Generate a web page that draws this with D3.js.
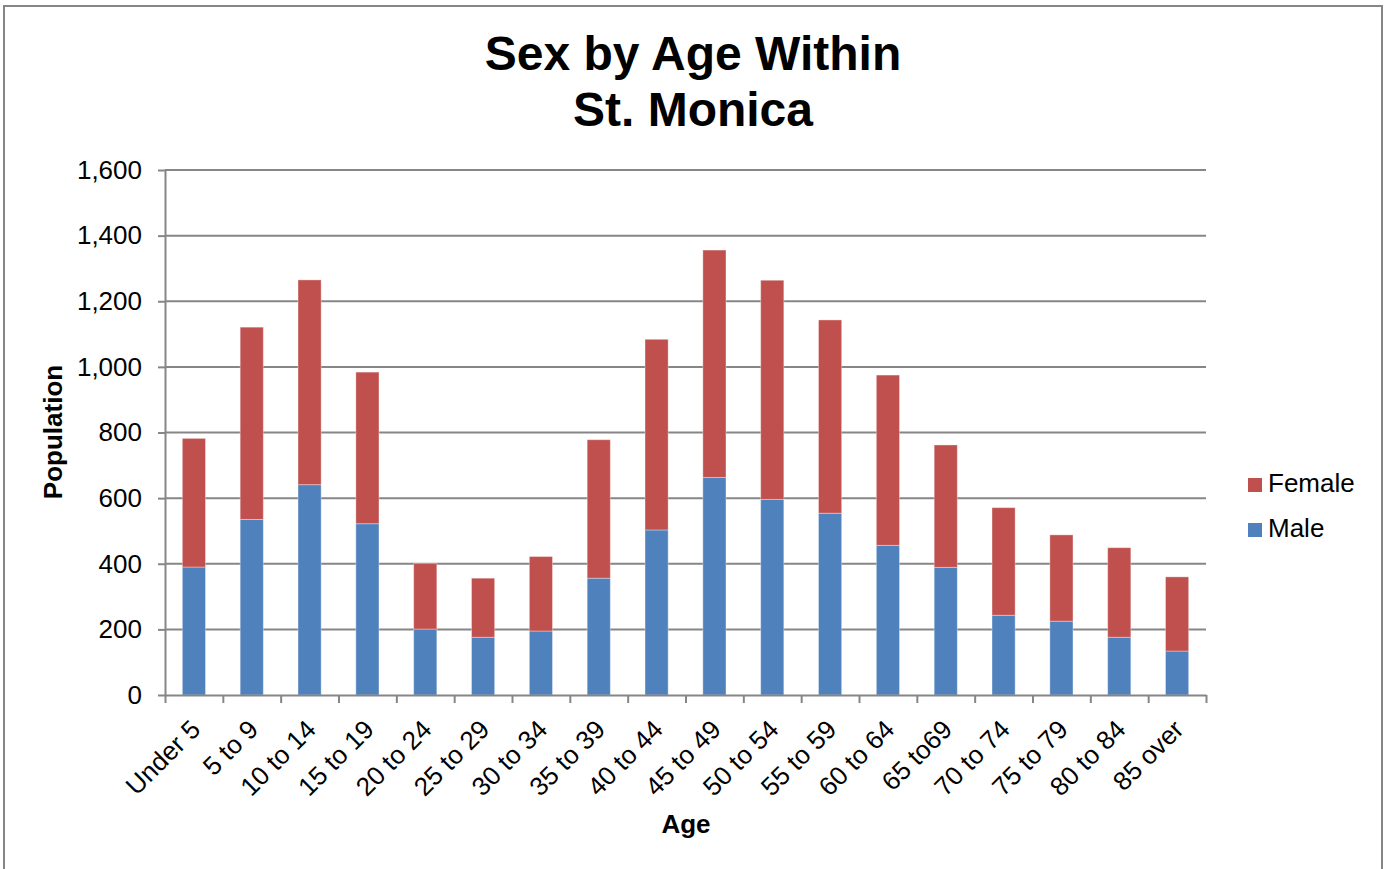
<!DOCTYPE html>
<html>
<head>
<meta charset="utf-8">
<script src="https://cdn.jsdelivr.net/npm/d3@7"></script>
<style>
  html, body { margin: 0; padding: 0; background: #fff; }
  svg { display: block; font-family: "Liberation Sans", Arial, sans-serif; }
</style>
</head>
<body>
<svg id="chart" width="1385" height="869"></svg>
<script>
const categories = ["Under 5","5 to 9","10 to 14","15 to 19","20 to 24","25 to 29","30 to 34","35 to 39","40 to 44","45 to 49","50 to 54","55 to 59","60 to 64","65 to69","70 to 74","75 to 79","80 to 84","85 over"];
const male   = [390, 535, 641, 522, 201, 176, 195, 356, 503, 663, 596, 554, 456, 389, 243, 225, 176, 134];
const female = [392, 586, 624, 462, 200, 180, 227, 422, 581, 693, 668, 589, 519, 373, 328, 263, 273, 226];
const seriesNames = ["Male", "Female"];
const seriesColors = ["#4F81BD", "#C0504D"];
const yTicks = [0, 200, 400, 600, 800, 1000, 1200, 1400, 1600];
const titleLines = ["Sex by Age Within", "St. Monica"];

const svg = d3.select("#chart");
const plotLeft = 165, plotRight = 1206, plotTop = 170, plotBottom = 695;
const gridColor = "#868686";
const fs = 26;

// outer frame
svg.append("rect").attr("x", 4).attr("y", 6).attr("width", 1378).attr("height", 900)
  .attr("fill", "none").attr("stroke", gridColor).attr("stroke-width", 2);

const x = d3.scaleBand().domain(categories).range([plotLeft, plotRight]).paddingInner(0.6).paddingOuter(0.3);
const y = d3.scaleLinear().domain([0, 1600]).range([plotBottom, plotTop]);

// gridlines
svg.append("g").selectAll("line").data(yTicks.filter(d => d > 0)).join("line")
  .attr("x1", plotLeft).attr("x2", plotRight)
  .attr("y1", d => y(d)).attr("y2", d => y(d))
  .attr("stroke", gridColor).attr("stroke-width", 2);

// stacked data
const rows = categories.map((c, i) => ({cat: c, Male: male[i], Female: female[i]}));
const stack = d3.stack().keys(seriesNames)(rows);

svg.append("g").selectAll("g").data(stack).join("g")
  .attr("fill", (d, i) => seriesColors[i])
  .selectAll("rect").data(d => d).join("rect")
  .attr("x", d => x(d.data.cat))
  .attr("width", x.bandwidth())
  .attr("y", d => y(d[1]))
  .attr("height", d => y(d[0]) - y(d[1]))
  .attr("stroke", "rgba(255,255,255,0.35)").attr("stroke-width", 1);

// y axis
const yAxis = d3.axisLeft(y).tickValues(yTicks).tickSize(7).tickSizeOuter(0).tickPadding(16)
  .tickFormat(d3.format(","));
const gy = svg.append("g").attr("transform", `translate(${plotLeft},0)`).call(yAxis);
gy.select(".domain").attr("stroke", gridColor).attr("stroke-width", 2);
gy.selectAll(".tick line").attr("stroke", gridColor).attr("stroke-width", 2);
gy.selectAll(".tick text").attr("font-size", fs).attr("fill", "#000")
  .attr("font-family", "Liberation Sans, Arial, sans-serif");

// x axis (ticks at category boundaries)
const xb = d3.scaleLinear().domain([0, categories.length]).range([plotLeft, plotRight]);
const xAxis = d3.axisBottom(xb).tickValues(d3.range(categories.length + 1)).tickSize(8).tickSizeOuter(0).tickFormat("");
const gx = svg.append("g").attr("transform", `translate(0,${plotBottom})`).call(xAxis);
gx.select(".domain").attr("stroke", gridColor).attr("stroke-width", 2);
gx.selectAll(".tick line").attr("stroke", gridColor).attr("stroke-width", 2);

// x labels rotated
svg.append("g").selectAll("text").data(categories).join("text")
  .attr("transform", d => `translate(${x(d) + x.bandwidth() / 2 + 8},${plotBottom + 36}) rotate(-45)`)
  .attr("text-anchor", "end")
  .attr("font-size", fs)
  .attr("fill", "#000")
  .text(d => d);

// title
svg.append("text").attr("x", 693).attr("y", 70).attr("text-anchor", "middle")
  .attr("font-size", 48).attr("font-weight", "bold").text(titleLines[0]);
svg.append("text").attr("x", 693).attr("y", 126).attr("text-anchor", "middle")
  .attr("font-size", 48).attr("font-weight", "bold").text(titleLines[1]);

// axis titles
svg.append("text").attr("transform", "translate(62,432) rotate(-90)").attr("text-anchor", "middle")
  .attr("font-size", fs).attr("font-weight", "bold").text("Population");
svg.append("text").attr("x", 686).attr("y", 833).attr("text-anchor", "middle")
  .attr("font-size", fs).attr("font-weight", "bold").text("Age");

// legend (Female on top)
const legendItems = [{name: "Female", color: seriesColors[1], yb: 492}, {name: "Male", color: seriesColors[0], yb: 537}];
const lg = svg.append("g").selectAll("g").data(legendItems).join("g");
lg.append("rect").attr("x", 1248).attr("y", d => d.yb - 14).attr("width", 14).attr("height", 14)
  .attr("fill", d => d.color);
lg.append("text").attr("x", 1268).attr("y", d => d.yb).attr("font-size", fs).attr("fill", "#000")
  .text(d => d.name);
</script>
</body>
</html>
